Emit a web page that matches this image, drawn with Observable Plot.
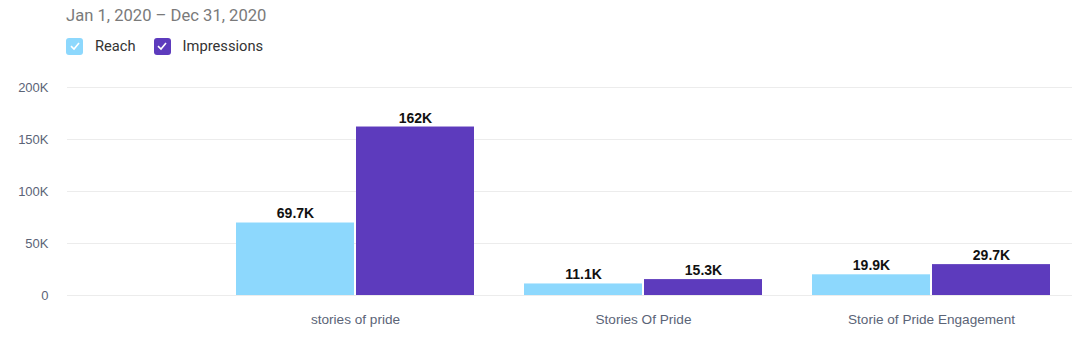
<!DOCTYPE html>
<html>
<head>
<meta charset="utf-8">
<script src="https://cdn.jsdelivr.net/npm/d3@7"></script>
<script src="https://cdn.jsdelivr.net/npm/@observablehq/plot@0.6"></script>
<style>
  html, body { margin: 0; padding: 0; background: #fff; }
  #wrap { width: 1072px; height: 350px; position: relative; overflow: hidden; }
  #title { position: absolute; left: 66px; top: 0; height: 32px; line-height: 32px; font-family: Roboto, sans-serif; font-size: 16.6px; color: #7a7a7a; }
  #legend { position: absolute; left: 66px; top: 32px; height: 28px; display: flex; align-items: center; font-family: Roboto, sans-serif; font-size: 14.7px; color: #333; }
  .item { display: flex; align-items: center; margin-right: 18px; }
  .box { width: 17px; height: 17px; border-radius: 3px; margin-right: 12px; display: flex; align-items: center; justify-content: center; }
  #chart { position: absolute; left: 0; top: 60px; }
</style>
</head>
<body>
<div id="wrap">
  <div id="title">Jan 1, 2020 – Dec 31, 2020</div>
  <div id="legend"></div>
  <div id="chart"></div>
</div>
<script>
const categories = ["stories of pride", "Stories Of Pride", "Storie of Pride Engagement"];
const seriesNames = ["Reach", "Impressions"];
const seriesColors = ["#8dd8fd", "#5d3bbd"];
const reach = [69700, 11100, 19900];
const impressions = [162000, 15300, 29700];
const yTicks = [0, 50000, 100000, 150000, 200000];

// legend
const legend = document.getElementById("legend");
seriesNames.forEach((name, i) => {
  const item = document.createElement("div");
  item.className = "item";
  item.innerHTML = `<div class="box" style="background:${seriesColors[i]}"><svg width="12" height="12" viewBox="0 0 12 12"><path d="M2 6.2 L5 9 L10 3" fill="none" stroke="#fff" stroke-width="1.6"/></svg></div><span>${name}</span>`;
  legend.appendChild(item);
});

const fmtVal = v => v >= 100000 ? Math.round(v / 1000) + "K" : (v / 1000).toFixed(1) + "K";
const fmtTick = v => v === 0 ? "0" : (v / 1000) + "K";

const reachData = categories.map((c, i) => ({category: c, value: reach[i]}));
const impData = categories.map((c, i) => ({category: c, value: impressions[i]}));

const chart = Plot.plot({
  width: 1072,
  height: 290,
  marginLeft: 67,
  marginRight: 0,
  marginTop: 27,
  marginBottom: 55,
  style: {fontFamily: "'Liberation Sans', Arial, sans-serif", fontSize: "13px", color: "#5b6477", background: "transparent"},
  x: {domain: categories, range: [211, 1075], paddingInner: 50 / 288, paddingOuter: 0.0868},
  y: {domain: [0, 200000]},
  marks: [
    Plot.gridY(yTicks, {stroke: "#ececec", strokeOpacity: 1, strokeWidth: 1}),
    Plot.barY(reachData, {x: "category", y: "value", fill: seriesColors[0], insetRight: 120}),
    Plot.barY(impData, {x: "category", y: "value", fill: seriesColors[1], insetLeft: 120}),
    Plot.text(reachData, {x: "category", y: "value", text: d => fmtVal(d.value), dx: -60, dy: -9, fill: "#111", fontWeight: "bold", fontSize: 14}),
    Plot.text(impData, {x: "category", y: "value", text: d => fmtVal(d.value), dx: 60, dy: -9, fill: "#111", fontWeight: "bold", fontSize: 14}),
    Plot.axisX({tickSize: 0, tickPadding: 19, label: null, fill: "#5b6477", fontSize: 13.6}),
    Plot.axisY(yTicks, {tickSize: 0, tickPadding: 19, label: null, tickFormat: fmtTick, fill: "#5b6477"})
  ]
});
document.getElementById("chart").appendChild(chart);
</script>
</body>
</html>
